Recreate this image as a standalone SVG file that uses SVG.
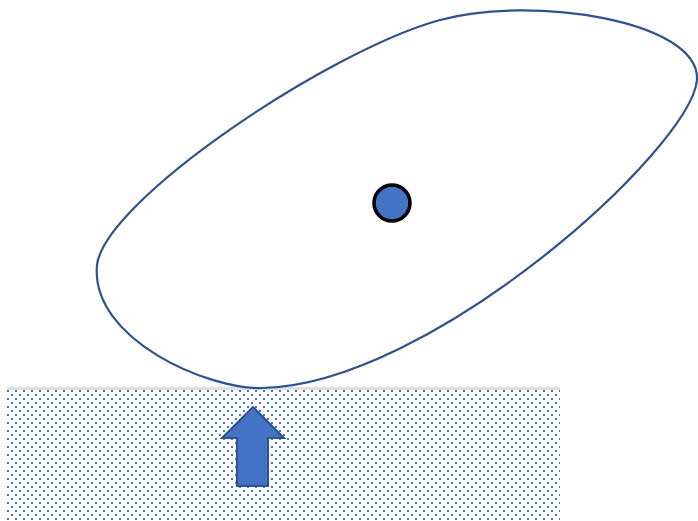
<svg xmlns="http://www.w3.org/2000/svg" width="698" height="521" viewBox="0 0 698 521">
<defs>
<pattern id="dots" width="8" height="8" patternUnits="userSpaceOnUse" x="7" y="390">
<rect x="0" y="0" width="2" height="2" fill="#4472C4"/>
<rect x="4" y="4" width="2" height="2" fill="#4472C4"/>
</pattern>
</defs>
<rect width="698" height="521" fill="#ffffff"/>
<g id="ground">
<rect x="7" y="390" width="553" height="131" fill="url(#dots)"/>
<rect x="7" y="387" width="553" height="3" fill="#e0e0e0"/>
</g>
<g id="blob">
<path d="M 262 388 C 210 390, 90 340, 97 265 C 105 200, 330 50, 440 20 C 530 -5, 700 20, 697 80 C 690 150, 430 385, 262 388 Z" fill="none" stroke="#2F528F" stroke-width="2.2"/>
</g>
<g id="center">
<circle cx="392" cy="203" r="18" fill="#4472C4" stroke="#000" stroke-width="3.5"/>
</g>
<g id="arrow">
<polygon points="253,407 284,438 268,438 268,486 237,486 237,438 222,438" fill="#4472C4" stroke="#2F528F" stroke-width="2"/>
</g>
</svg>
